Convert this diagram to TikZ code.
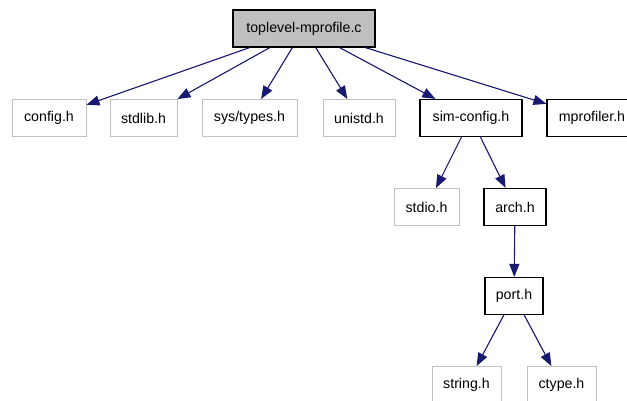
\documentclass[tikz,border=0pt]{standalone}
\usepackage{fontspec}
\setmainfont{Liberation Sans}
\usepackage{tikz}
\usetikzlibrary{arrows.meta}
\usepackage{xcolor}
\definecolor{edgenavy}{HTML}{191970}
\definecolor{nodegray}{HTML}{BFBFBF}
\definecolor{sysborder}{HTML}{C0C0C0}

\begin{document}
\begin{tikzpicture}[
  x=1pt, y=1pt,
  font=\fontsize{14.2}{16}\selectfont,
  >={Triangle[length=13pt,width=10pt]},
  filebox/.style={
    draw=black,
    line width=1.2pt,
    rectangle,
    minimum height=37pt,
    inner sep=0pt,
    align=center
  },
  sysbox/.style={
    filebox,
    draw=sysborder,
    line width=1pt
  },
  incl/.style={->, line width=1.1pt, draw=edgenavy, fill=edgenavy}
]
  \useasboundingbox (0,0) rectangle (627,-400);

  % Root file
  \node[filebox, fill=nodegray, minimum width=142pt] (top) at (304,-28.5) {toplevel-mprofile.c};

  % First level includes
  \node[sysbox, minimum width=74pt] (config) at (49,-118) {config.h};
  \node[sysbox, minimum width=67pt] (stdlib) at (143.5,-118) {stdlib.h};
  \node[sysbox, minimum width=95pt] (systypes) at (249.5,-118) {sys/types.h};
  \node[sysbox, minimum width=72pt] (unistd) at (359,-118) {unistd.h};
  \node[filebox, minimum width=102pt] (simcfg) at (471,-118) {sim-config.h};
  \node[filebox, minimum width=90pt] (mprof) at (592,-118) {mprofiler.h};

  % Second level
  \node[sysbox, minimum width=65pt] (stdio) at (426.5,-207) {stdio.h};
  \node[filebox, minimum width=62pt] (arch) at (515,-207) {arch.h};

  % Third and fourth level
  \node[filebox, minimum width=58pt] (port) at (514,-296) {port.h};
  \node[sysbox, minimum width=69pt] (string) at (466.5,-385) {string.h};
  \node[sysbox, minimum width=69pt] (ctype) at (561.5,-385) {ctype.h};

  % Include edges
  \draw[incl] (top) -- (config);
  \draw[incl] (top) -- (stdlib);
  \draw[incl] (top) -- (systypes);
  \draw[incl] (top) -- (unistd);
  \draw[incl] (top) -- (simcfg);
  \draw[incl] (top) -- (mprof);
  \draw[incl] (simcfg) -- (stdio);
  \draw[incl] (simcfg) -- (arch);
  \draw[incl] (arch) -- (port);
  \draw[incl] (port) -- (string);
  \draw[incl] (port) -- (ctype);

\end{tikzpicture}
\end{document}
